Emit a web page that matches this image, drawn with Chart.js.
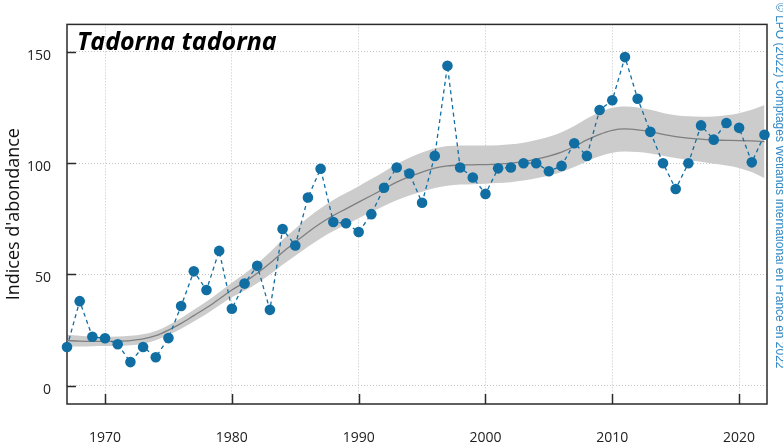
<!DOCTYPE html>
<html>
<head>
<meta charset="utf-8">
<script src="https://cdn.jsdelivr.net/npm/chart.js@4/dist/chart.umd.min.js"></script>
<style>
  html, body { margin: 0; padding: 0; background: #fff; }
  #wrap { width: 783px; height: 448px; position: relative; }
</style>
</head>
<body>
<div id="wrap"><canvas id="chart"></canvas></div>
<script>
// --- data ---
const years = [1967, 1968, 1969, 1970, 1971, 1972, 1973, 1974, 1975, 1976,
    1977, 1978, 1979, 1980, 1981, 1982, 1983, 1984, 1985, 1986,
    1987, 1988, 1989, 1990, 1991, 1992, 1993, 1994, 1995, 1996,
    1997, 1998, 1999, 2000, 2001, 2002, 2003, 2004, 2005, 2006,
    2007, 2008, 2009, 2010, 2011, 2012, 2013, 2014, 2015, 2016,
    2017, 2018, 2019, 2020, 2021, 2022];

const indices = [17.4, 38.0, 22.0, 21.3, 18.6, 10.6, 17.4, 12.8, 21.4, 35.8,
    51.4, 43.0, 60.6, 34.6, 45.9, 53.9, 34.1, 70.4, 63.0, 84.6,
    97.5, 73.6, 73.0, 69.1, 77.1, 89.0, 98.1, 95.4, 82.2, 103.3,
    143.8, 98.1, 93.6, 86.2, 97.7, 98.1, 100.0, 100.0, 96.4, 98.8,
    109.0, 103.3, 123.9, 128.3, 147.7, 129.0, 114.1, 100.0, 88.4, 100.0,
    117.0, 110.6, 118.1, 115.9, 100.4, 112.8];

const trend = [20.3, 20.0, 19.9, 19.9, 20.0, 20.3, 21.0, 22.5, 25.0, 28.0,
    31.5, 35.0, 39.0, 43.0, 46.5, 50.5, 55.0, 60.0, 64.5, 69.0,
    73.0, 76.5, 79.5, 82.5, 85.5, 88.5, 91.5, 94.0, 96.0, 97.8,
    98.8, 99.2, 99.3, 99.4, 99.6, 100.0, 100.7, 101.8, 103.2, 105.0,
    107.5, 110.5, 113.0, 114.8, 115.4, 115.0, 114.2, 113.0, 112.0, 111.3,
    110.8, 110.4, 110.3, 110.2, 110.0, 109.7];

const upper = [22.9, 22.4, 22.1, 22.0, 22.1, 22.4, 23.1, 24.6, 27.2, 30.4,
    34.1, 37.8, 42.0, 46.3, 50.3, 54.9, 60.0, 65.6, 70.6, 75.5,
    79.8, 83.5, 86.6, 89.7, 92.9, 96.2, 99.6, 102.5, 104.8, 106.7,
    107.7, 108.0, 108.0, 108.0, 108.1, 108.5, 109.2, 110.4, 111.9, 113.9,
    116.7, 120.1, 122.9, 124.9, 125.5, 125.0, 124.0, 122.6, 121.6, 121.1,
    120.9, 121.0, 121.6, 122.5, 124.0, 126.2];

const lower = [17.7, 17.6, 17.7, 17.8, 17.9, 18.2, 18.9, 20.4, 22.8, 25.6,
    28.9, 32.2, 36.0, 39.7, 42.7, 46.1, 50.0, 54.4, 58.4, 62.5,
    66.2, 69.5, 72.4, 75.3, 78.1, 80.8, 83.4, 85.5, 87.2, 88.9,
    89.9, 90.4, 90.6, 90.8, 91.1, 91.5, 92.2, 93.2, 94.5, 96.1,
    98.3, 100.9, 103.1, 104.7, 105.3, 105.0, 104.4, 103.4, 102.4, 101.5,
    100.7, 99.8, 99.0, 97.9, 96.0, 93.2];

const yTicks = [0, 50, 100, 150];
const xTicks = [1970, 1980, 1990, 2000, 2010, 2020];

const speciesName = 'Tadorna tadorna';
const yTitle = "Indices d'abondance";
const credit = '© LPO (2022) Comptages Wetlands International en France en 2022';

const blue = '#106ea3';
const pts = arr => years.map((yr, i) => ({ x: yr, y: arr[i] }));

// frame, inward ticks, title and credit
const decor = {
    id: 'decor',
    beforeDatasetsDraw(chart) {
        const { ctx, chartArea: a, scales } = chart;
        ctx.save();
        ctx.strokeStyle = '#2b2b2b';
        ctx.lineWidth = 1.5;
        ctx.strokeRect(a.left, a.top, a.right - a.left, a.bottom - a.top);
        ctx.beginPath();
        yTicks.forEach(v => {
            const py = Math.round(scales.y.getPixelForValue(v)) + 0.5;
            ctx.moveTo(a.left, py);
            ctx.lineTo(a.left + 9, py);
        });
        xTicks.forEach(v => {
            const px = Math.round(scales.x.getPixelForValue(v)) + 0.5;
            ctx.moveTo(px, a.bottom);
            ctx.lineTo(px, a.bottom - 10);
        });
        ctx.stroke();
        ctx.restore();
    },
    afterDraw(chart) {
        const { ctx, chartArea: a } = chart;
        ctx.save();
        ctx.fillStyle = '#000';
        ctx.font = 'italic bold 25px "Open Sans"';
        ctx.textBaseline = 'alphabetic';
        ctx.fillText(speciesName, a.left + 10, a.top + 26);

        ctx.translate(779, 3);
        ctx.rotate(Math.PI / 2);
        ctx.fillStyle = '#3388c4';
        ctx.font = '12px "Liberation Sans"';
        ctx.textBaseline = 'middle';
        ctx.textAlign = 'left';
        ctx.fillText(credit, 0, 0);
        ctx.restore();
    }
};

new Chart(document.getElementById('chart'), {
    type: 'line',
    data: {
        datasets: [
            {
                data: pts(indices),
                order: 0,
                borderColor: blue,
                borderWidth: 1.3,
                borderDash: [4, 3.5],
                pointRadius: 5.3,
                pointBackgroundColor: blue,
                pointBorderWidth: 0,
                fill: false,
                tension: 0,
                clip: false
            },
            {
                data: pts(trend),
                order: 1,
                borderColor: '#7f7f7f',
                borderWidth: 1.3,
                pointRadius: 0,
                fill: false,
                cubicInterpolationMode: 'monotone'
            },
            {
                data: pts(upper),
                order: 2,
                borderWidth: 0,
                pointRadius: 0,
                backgroundColor: '#cccccc',
                fill: '+1',
                cubicInterpolationMode: 'monotone'
            },
            {
                data: pts(lower),
                order: 3,
                borderWidth: 0,
                pointRadius: 0,
                fill: false,
                cubicInterpolationMode: 'monotone'
            }
        ]
    },
    options: {
        responsive: true,
        maintainAspectRatio: false,
        animation: false,
        layout: { padding: { left: 0, right: 16, top: 10, bottom: 0 } },
        plugins: {
            legend: { display: false },
            tooltip: { enabled: false },
            filler: { drawTime: 'beforeDatasetsDraw' }
        },
        scales: {
            x: {
                type: 'linear',
                min: 1967,
                max: 2022.2,
                afterBuildTicks: s => { s.ticks = xTicks.map(v => ({ value: v })); },
                afterFit: s => { s.height = 44; },
                grid: { color: '#c4c4c4', lineWidth: 1, drawTicks: false },
                border: { display: false, dash: [1, 2] },
                ticks: {
                    padding: 26,
                    color: '#222',
                    font: { family: 'Open Sans', size: 14 },
                    maxRotation: 0,
                    callback: v => String(v)
                }
            },
            y: {
                min: -8.23,
                max: 162.4,
                afterBuildTicks: s => { s.ticks = yTicks.map(v => ({ value: v })); },
                afterFit: s => { s.width = 67; },
                grid: { color: '#c4c4c4', lineWidth: 1, drawTicks: false },
                border: { display: false, dash: [1, 2] },
                ticks: {
                    padding: 16,
                    labelOffset: 4,
                    color: '#222',
                    font: { family: 'Open Sans', size: 14 },
                    callback: v => String(v)
                },
                title: {
                    display: true,
                    text: yTitle,
                    color: '#111',
                    font: { family: 'Open Sans', size: 18 },
                    padding: { top: 3, bottom: 0 }
                }
            }
        }
    },
    plugins: [decor]
});
</script>
</body>
</html>
